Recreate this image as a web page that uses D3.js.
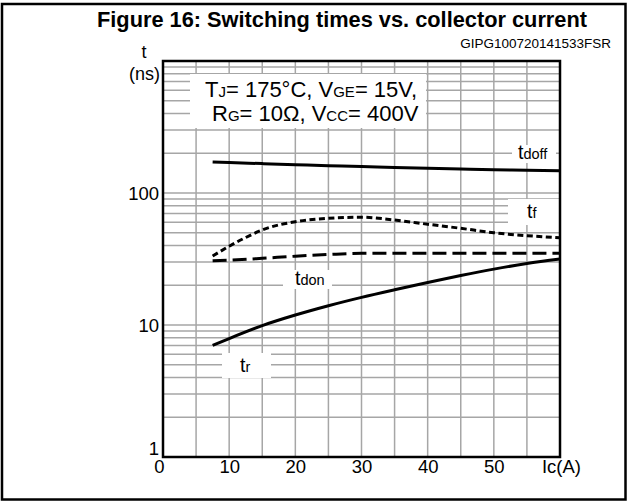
<!DOCTYPE html>
<html><head><meta charset="utf-8">
<script src="https://cdn.jsdelivr.net/npm/d3@7"></script>
<style>
html,body{margin:0;padding:0;background:#fff;}
text{font-family:"Liberation Sans",Arial,sans-serif;fill:#000;}
</style></head>
<body>
<svg id="chart" width="628" height="501"></svg>
<script>
// ---- data ----
const titleText = "Figure 16: Switching times vs. collector current";
const codeText = "GIPG100720141533FSR";
const xTicks = [0, 10, 20, 30, 40, 50, 60];
const xTickLabels = ["0", "10", "20", "30", "40", "50", "Ic(A)"];
const yTicks = [1, 10, 100];
const yTickLabels = ["1", "10", "100"];

const tdoffX = [7.5, 10, 15, 20, 25, 30, 35, 40, 45, 50, 55, 60];
const tdoffY = [172, 170, 167, 164, 161, 159, 156, 154, 152, 150, 149, 147.5];
const tfX = [7.5, 10, 12.5, 15, 20, 25, 30, 35, 40, 45, 50, 55, 60];
const tfY = [33.3, 39.5, 46, 52.5, 60.6, 64.3, 65.5, 62.4, 58, 54, 50, 47.5, 45.8];
const tdonX = [7.5, 10, 15, 20, 25, 30, 40, 50, 60];
const tdonY = [30.7, 31, 32, 33.2, 34.2, 34.9, 35, 35, 35];
const trX = [7.5, 10, 15, 20, 25, 30, 35, 40, 45, 50, 55, 60];
const trY = [7.0, 7.9, 9.9, 11.9, 14.0, 16.2, 18.5, 21.0, 23.7, 26.5, 29.2, 31.6];

const zip = (xs, ys) => xs.map((v, i) => [v, ys[i]]);
const series = [
  {name: "tdoff", pts: zip(tdoffX, tdoffY), dash: null},
  {name: "tf", pts: zip(tfX, tfY), dash: "6,3.5"},
  {name: "tdon", pts: zip(tdonX, tdonY), dash: "14,6"},
  {name: "tr", pts: zip(trX, trY), dash: null}
];

// ---- layout ----
const svg = d3.select("#chart");
const L = 163, R = 560, T = 61, B = 457;
const x = d3.scaleLinear().domain([0, 60]).range([L, R]);
const y = d3.scaleLog().domain([1, 1000]).range([B, T]);

// outer frame
svg.append("rect").attr("x", 2).attr("y", 4).attr("width", 623.5).attr("height", 495.5)
  .attr("fill", "none").attr("stroke", "#000").attr("stroke-width", 2.5);

// title
svg.append("text").attr("x", 97).attr("y", 27).attr("font-size", 21.5).attr("font-weight", "bold")
  .attr("textLength", 490).attr("lengthAdjust", "spacingAndGlyphs").text(titleText);
svg.append("text").attr("x", 611).attr("y", 48).attr("font-size", 13.5).attr("text-anchor", "end").text(codeText);

// grid
const g = svg.append("g");
const vgrid = d3.range(5, 60, 5);
g.selectAll("line.v").data(vgrid).join("line")
  .attr("x1", d => x(d)).attr("x2", d => x(d)).attr("y1", T).attr("y2", B)
  .attr("stroke", "#a6a6a6").attr("stroke-width", 1.5);
const hgrid = [];
[1, 10, 100].forEach(dec => { for (let k = 2; k <= 10; k++) { const v = dec * k; if (v < 1000) hgrid.push(v); } });
g.selectAll("line.h").data(hgrid).join("line")
  .attr("x1", L).attr("x2", R).attr("y1", d => y(d)).attr("y2", d => y(d))
  .attr("stroke", "#a6a6a6").attr("stroke-width", 1.5);

// white boxes over grid (legend + labels)
const boxes = [
  [190, 74, 236, 54],
  [512, 145, 44, 18],
  [508, 199, 51, 26],
  [283, 270, 49, 19],
  [222, 353, 49, 25]
];
svg.selectAll("rect.box").data(boxes).join("rect")
  .attr("x", d => d[0]).attr("y", d => d[1]).attr("width", d => d[2]).attr("height", d => d[3])
  .attr("fill", "#fff");

// curves
const line = d3.line().x(d => x(d[0])).y(d => y(d[1])).curve(d3.curveMonotoneX);
svg.selectAll("path.curve").data(series).join("path")
  .attr("d", d => line(d.pts)).attr("fill", "none").attr("stroke", "#000")
  .attr("stroke-width", 3).attr("stroke-dasharray", d => d.dash);

// plot border
svg.append("rect").attr("x", L).attr("y", T).attr("width", R - L).attr("height", B - T)
  .attr("fill", "none").attr("stroke", "#000").attr("stroke-width", 2.5);

// x axis labels
const xAxis = d3.axisBottom(x).tickValues(xTicks).tickSize(0).tickPadding(0)
  .tickFormat((d, i) => xTickLabels[i]);
const gx = svg.append("g").attr("transform", `translate(0,${B})`).call(xAxis);
gx.select(".domain").remove();
gx.selectAll("text").attr("font-size", 18.5).attr("font-family", "Liberation Sans, Arial, sans-serif")
  .attr("fill", "#000").attr("dy", null).attr("y", 15.5)
  .attr("dx", (d) => d === 0 ? -4 : (d === 60 ? 1 : 0));

// y axis labels
const yAxis = d3.axisLeft(y).tickValues(yTicks).tickSize(0).tickPadding(4)
  .tickFormat((d, i) => yTickLabels[i]);
const gy = svg.append("g").attr("transform", `translate(${L},0)`).call(yAxis);
gy.select(".domain").remove();
gy.selectAll("text").attr("font-size", 18.5).attr("font-family", "Liberation Sans, Arial, sans-serif")
  .attr("fill", "#000").attr("dy", d => d === 1 ? "-0.15em" : "0.34em");

// y unit
svg.append("text").attr("x", 144).attr("y", 58).attr("font-size", 18).attr("text-anchor", "middle").text("t");
svg.append("text").attr("x", 160).attr("y", 80).attr("font-size", 18).attr("text-anchor", "end").text("(ns)");

// legend text
const leg = svg.append("g");
const l1 = leg.append("text").attr("x", 205).attr("y", 97);
[["T", 22], ["J", 15], ["= 175°C, V", 22], ["GE", 15], ["= 15V,", 22]].forEach(p => l1.append("tspan").attr("font-size", p[1]).text(p[0]));
const l2 = leg.append("text").attr("x", 212).attr("y", 121);
[["R", 22], ["G", 15], ["= 10Ω, V", 22], ["CC", 15], ["= 400V", 22]].forEach(p => l2.append("tspan").attr("font-size", p[1]).text(p[0]));

// curve labels
const labels = [
  ["t", "doff", 518, 159],
  ["t", "f", 527, 218],
  ["t", "don", 295, 285],
  ["t", "r", 240, 372]
];
labels.forEach(lb => {
  const t = svg.append("text").attr("x", lb[2]).attr("y", lb[3]);
  t.append("tspan").attr("font-size", 19.5).text(lb[0]);
  t.append("tspan").attr("font-size", 14.5).text(lb[1]);
});
</script>
</body></html>
